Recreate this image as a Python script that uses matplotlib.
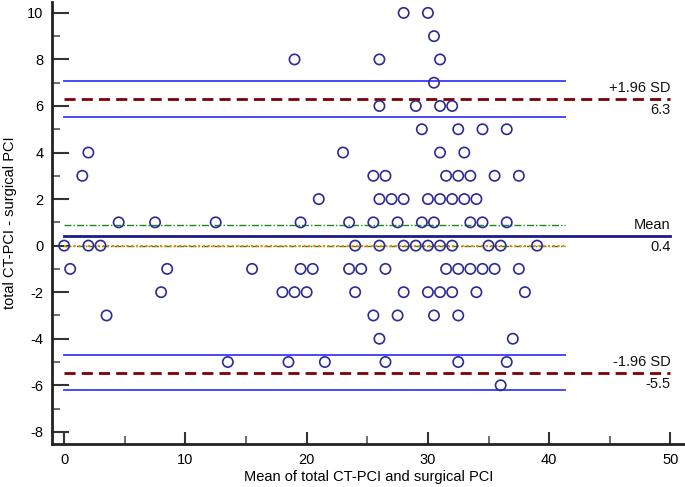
import matplotlib
matplotlib.use("Agg")
import matplotlib.pyplot as plt
from matplotlib.ticker import MultipleLocator

plt.rcParams['font.family'] = ['Liberation Sans', 'DejaVu Sans']
plt.rcParams['axes.unicode_minus'] = False

# Data points (mean, difference)
x_vals = [28, 30,
          30.5,
          19, 26, 31,
          30.5,
          26, 29, 31, 32,
          29.5, 32.5, 34.5, 36.5,
          2, 23, 31, 33,
          1.5, 25.5, 26.5, 31.5, 32.5, 33.5, 35.5, 37.5,
          21, 26, 27, 28, 30, 31, 32, 33, 34,
          4.5, 7.5, 12.5, 19.5, 23.5, 25.5, 27.5, 29.5, 30.5, 33.5, 34.5, 36.5,
          0, 2, 3, 24, 26, 28, 29, 30, 31, 32, 35, 36, 39,
          0.5, 8.5, 15.5, 19.5, 20.5, 23.5, 24.5, 26.5, 31.5, 32.5, 33.5, 34.5, 35.5, 37.5,
          8, 18, 19, 20, 24, 28, 30, 31, 32, 34, 38,
          3.5, 25.5, 27.5, 30.5, 32.5,
          26, 37,
          13.5, 18.5, 21.5, 26.5, 32.5, 36.5,
          36]
y_vals = [10, 10,
          9,
          8, 8, 8,
          7,
          6, 6, 6, 6,
          5, 5, 5, 5,
          4, 4, 4, 4,
          3, 3, 3, 3, 3, 3, 3, 3,
          2, 2, 2, 2, 2, 2, 2, 2, 2,
          1, 1, 1, 1, 1, 1, 1, 1, 1, 1, 1, 1,
          0, 0, 0, 0, 0, 0, 0, 0, 0, 0, 0, 0, 0,
          -1, -1, -1, -1, -1, -1, -1, -1, -1, -1, -1, -1, -1, -1,
          -2, -2, -2, -2, -2, -2, -2, -2, -2, -2, -2,
          -3, -3, -3, -3, -3,
          -4, -4,
          -5, -5, -5, -5, -5, -5,
          -6]

mean_diff = 0.43
mean_ci = [-0.01, 0.87]
upper_loa = 6.31
upper_ci = [5.52, 7.08]
lower_loa = -5.46
lower_ci = [-6.22, -4.68]
labels_upper = ["+1.96 SD", "6.3"]
labels_mean = ["Mean", "0.4"]
labels_lower = ["-1.96 SD", "-5.5"]

fig = plt.figure(figsize=(6.85, 4.87), dpi=100)
ax = fig.add_axes([0.0759, 0.0875, 0.9241, 0.9085])

x_end_ci = 41.3
x_end = 50

# mean CI
for v in mean_ci:
    ax.plot([0, x_end_ci], [v, v], color='#1a8a1a', lw=1.0, ls=(0, (5, 1.5, 1, 1.5)), zorder=2)
# zero line
ax.plot([0, x_end_ci], [0, 0], color='#ff7f00', lw=1.5, ls=(0, (1, 1.3)), zorder=2.1)
# LoA CI
for v in upper_ci + lower_ci:
    ax.plot([0, x_end_ci], [v, v], color='#3a3aff', lw=1.3, zorder=2)
# mean line
ax.plot([0, x_end], [mean_diff, mean_diff], color='#1c1c8c', lw=2.0, zorder=2)
# LoA lines
for v in [upper_loa, lower_loa]:
    ax.plot([0, x_end], [v, v], color='#7f0000', lw=2.0, ls=(0, (4, 2.2)), zorder=2)

ax.scatter(x_vals, y_vals, s=55, facecolors='none', edgecolors='#2b2b96', linewidths=1.2, zorder=3)

for v, (top, bot) in [(upper_loa, labels_upper), (mean_diff, labels_mean), (lower_loa, labels_lower)]:
    ax.text(50, v + 0.15, top, ha='right', va='bottom', fontsize=10.5, color='#111111')
    ax.text(50, v - 0.2, bot, ha='right', va='top', fontsize=10.5, color='#111111')

ax.set_xlim(-1.0, 51.2)
ax.set_ylim(-8.54, 10.47)
ax.xaxis.set_major_locator(MultipleLocator(10))
ax.xaxis.set_minor_locator(MultipleLocator(5))
ax.yaxis.set_major_locator(MultipleLocator(2))
ax.yaxis.set_minor_locator(MultipleLocator(1))
ax.set_xticks(range(0, 51, 10))
ax.set_yticks(range(-8, 11, 2))

for s in ['top', 'right']:
    ax.spines[s].set_visible(False)
for s in ['left', 'bottom']:
    ax.spines[s].set_linewidth(2.0)
    ax.spines[s].set_color('#222222')

ax.tick_params(axis='y', which='major', direction='in', length=12, width=1.5, color='#333333', labelsize=10.5, pad=6)
ax.tick_params(axis='y', which='minor', direction='in', length=6, width=1.2, color='#555555')
ax.tick_params(axis='x', which='major', direction='in', length=9, width=1.5, color='#333333', labelsize=10.5, pad=6)
ax.tick_params(axis='x', which='minor', direction='in', length=6, width=1.2, color='#555555')

ax.set_xlabel("Mean of total CT-PCI and surgical PCI", fontsize=10.5)
ax.set_ylabel("total CT-PCI - surgical PCI", fontsize=10.5)
ax.xaxis.set_label_coords(0.5, -0.059)
ax.yaxis.set_label_coords(-0.066, 0.5)
ax.yaxis.label.set_va('center')

fig.savefig("out.png", dpi=100)
